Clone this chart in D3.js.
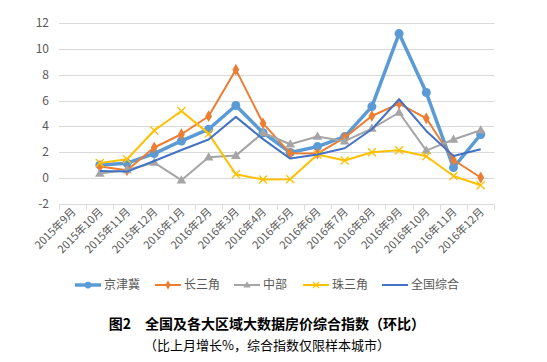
<!DOCTYPE html>
<html>
<head>
<meta charset="utf-8">
<script src="https://cdn.jsdelivr.net/npm/d3@7"></script>
<style>
  body { margin: 0; background: #fff; }
  svg { display: block; font-family: "Noto Sans CJK SC", "Noto Sans", sans-serif; }
</style>
</head>
<body>
<svg id="chart" width="547" height="362"></svg>
<script>
var months = ["2015年9月", "2015年10月", "2015年11月", "2015年12月", "2016年1月", "2016年2月",
  "2016年3月", "2016年4月", "2016年5月", "2016年6月", "2016年7月", "2016年8月",
  "2016年9月", "2016年10月", "2016年11月", "2016年12月"];
var yTicks = [-2, 0, 2, 4, 6, 8, 10, 12];

// first month has no data
var jingjinji = [null, 1.0, 1.13, 1.88, 2.86, 3.77, 5.61, 3.5, 1.96, 2.42, 3.2, 5.53, 11.2, 6.62, 0.79, 3.36];
var changsanjiao = [null, 0.87, 0.58, 2.35, 3.38, 4.78, 8.4, 4.23, 1.9, 1.88, 3.12, 4.8, 5.76, 4.62, 1.38, 0.02];
var zhongbu = [null, 0.33, 0.6, 1.18, -0.19, 1.59, 1.72, 3.5, 2.6, 3.2, 2.84, 3.82, 5.07, 2.11, 2.97, 3.69];
var zhusanjiao = [null, 1.15, 1.44, 3.67, 5.19, 3.43, 0.27, -0.14, -0.12, 1.8, 1.34, 1.98, 2.14, 1.67, 0.14, -0.58];
var quanguo = [null, 0.53, 0.48, 1.3, 2.16, 2.97, 4.73, 3.0, 1.49, 1.8, 2.29, 3.77, 6.1, 3.64, 1.69, 2.21];

var series = [
  { name: "京津冀", values: jingjinji, color: "#5B9BD5", width: 3.5, marker: "circle" },
  { name: "长三角", values: changsanjiao, color: "#ED7D31", width: 2, marker: "diamond" },
  { name: "中部", values: zhongbu, color: "#A5A5A5", width: 2, marker: "triangle" },
  { name: "珠三角", values: zhusanjiao, color: "#FFC000", width: 2, marker: "cross" },
  { name: "全国综合", values: quanguo, color: "#4472C4", width: 2, marker: null }
];

var svg = d3.select("#chart");
var plotLeft = 59, plotRight = 494.3, plotTop = 23.3, plotBottom = 203.5;

var x = d3.scaleBand().domain(months).range([plotLeft, plotRight]);
var y = d3.scaleLinear().domain([-2, 12]).range([plotBottom, plotTop]);

// gridlines
svg.append("g").selectAll("line")
  .data(yTicks)
  .enter().append("line")
  .attr("x1", plotLeft).attr("x2", plotRight)
  .attr("y1", function (d) { return Math.round(y(d)) + 0.5; })
  .attr("y2", function (d) { return Math.round(y(d)) + 0.5; })
  .attr("stroke", "#D9D9D9").attr("stroke-width", 1);

// y labels
svg.append("g").selectAll("text")
  .data(yTicks)
  .enter().append("text")
  .attr("x", 49).attr("y", function (d) { return y(d) + 4; })
  .attr("text-anchor", "end")
  .attr("font-size", 12).attr("fill", "#595959")
  .text(function (d) { return d; });

// x axis tick marks
var tickPos = months.map(function (m) { return x(m); }).concat([plotRight]);
svg.append("g").selectAll("line")
  .data(tickPos)
  .enter().append("line")
  .attr("x1", function (d) { return Math.round(d) + 0.5; })
  .attr("x2", function (d) { return Math.round(d) + 0.5; })
  .attr("y1", Math.round(plotBottom) + 0.5).attr("y2", Math.round(plotBottom) + 5.5)
  .attr("stroke", "#D9D9D9");

// x labels
svg.append("g").selectAll("text")
  .data(months)
  .enter().append("text")
  .attr("transform", function (d) {
    return "translate(" + (x(d) + x.bandwidth() / 2 + 4) + "," + (plotBottom + 9) + ") rotate(-45)";
  })
  .attr("text-anchor", "end")
  .attr("font-size", 11).attr("fill", "#595959")
  .text(function (d) { return d; });

var line = d3.line()
  .defined(function (d) { return d != null; })
  .x(function (d, i) { return x(months[i]) + x.bandwidth() / 2; })
  .y(function (d) { return y(d); });

function drawMarker(g, type, color, cx, cy, k) {
  k = k || 1;
  if (type === "circle") {
    g.append("circle").attr("cx", cx).attr("cy", cy).attr("r", 4.5 * k).attr("fill", color);
  } else if (type === "diamond") {
    g.append("path").attr("d", d3.symbol(d3.symbolDiamond, 40 * k * k)())
      .attr("transform", "translate(" + cx + "," + cy + ")").attr("fill", color);
  } else if (type === "triangle") {
    g.append("path").attr("d", d3.symbol(d3.symbolTriangle, 40 * k * k)())
      .attr("transform", "translate(" + cx + "," + (cy + 0.5) + ")").attr("fill", color);
  } else if (type === "cross") {
    var r = 4 * k;
    g.append("path").attr("d", "M" + -r + "," + -r + "L" + r + "," + r + "M" + -r + "," + r + "L" + r + "," + -r)
      .attr("transform", "translate(" + cx + "," + cy + ")")
      .attr("stroke", color).attr("stroke-width", 1.3).attr("fill", "none");
  }
}

series.forEach(function (s) {
  var g = svg.append("g");
  g.append("path")
    .attr("d", line(s.values))
    .attr("fill", "none")
    .attr("stroke", s.color)
    .attr("stroke-width", s.width)
    .attr("stroke-linejoin", "round");
  if (s.marker) {
    s.values.forEach(function (v, i) {
      if (v == null) return;
      drawMarker(g, s.marker, s.color, x(months[i]) + x.bandwidth() / 2, y(v));
    });
  }
});

// legend
var legendX = [75, 155, 234, 303, 382];
var legend = svg.append("g");
series.forEach(function (s, i) {
  var lg = legend.append("g");
  var lx = legendX[i], ly = 285;
  lg.append("line").attr("x1", lx).attr("x2", lx + 26).attr("y1", ly).attr("y2", ly)
    .attr("stroke", s.color).attr("stroke-width", s.width);
  if (s.marker) drawMarker(lg, s.marker, s.color, lx + 13, ly, 0.75);
  lg.append("text").attr("x", lx + 29).attr("y", ly + 4)
    .attr("font-size", 12).attr("fill", "#595959").text(s.name);
});

// captions
svg.append("text").attr("x", 267).attr("y", 329)
  .attr("text-anchor", "middle").attr("font-size", 14).attr("font-weight", "bold")
  .attr("fill", "#000")
  .text("图2　全国及各大区域大数据房价综合指数（环比）");
svg.append("text").attr("x", 267).attr("y", 350)
  .attr("text-anchor", "middle").attr("font-size", 13)
  .attr("fill", "#000")
  .text("（比上月增长%，综合指数仅限样本城市）");
</script>
</body>
</html>
